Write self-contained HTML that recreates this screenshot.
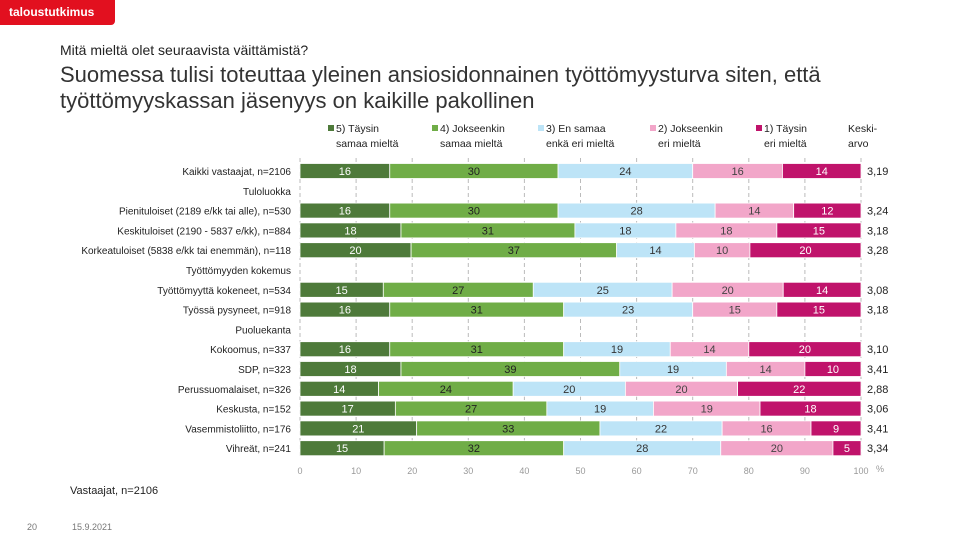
<!DOCTYPE html>
<html><head><meta charset="utf-8"><style>
body{margin:0;width:960px;height:540px;background:#fff;overflow:hidden;font-family:"Liberation Sans",sans-serif;}
#logo{position:absolute;left:0;top:0;width:115px;height:25px;background:#e2101f;border-bottom-right-radius:4px;color:#fff;font-weight:bold;font-size:12px;line-height:24px;padding-left:9px;box-sizing:border-box;}
.t{position:absolute;white-space:nowrap;color:#222;}
</style></head><body>
<div id="logo">taloustutkimus</div>
<div class="t" style="left:60px;top:42px;font-size:14px;">Mitä mieltä olet seuraavista väittämistä?</div>
<div class="t" style="left:60px;top:62px;font-size:22px;line-height:26px;color:#333;">Suomessa tulisi toteuttaa yleinen ansiosidonnainen työttömyysturva siten, että<br>työttömyyskassan jäsenyys on kaikille pakollinen</div>
<svg id="c" width="960" height="540" style="position:absolute;left:0;top:0"></svg>
<div class="t" style="left:70px;top:485px;font-size:11px;">Vastaajat, n=2106</div>
<div class="t" style="left:27px;top:522px;font-size:9px;color:#777;">20</div>
<div class="t" style="left:72px;top:522px;font-size:9px;color:#777;">15.9.2021</div>
<script>
const rowLabels=["Kaikki vastaajat, n=2106","Tuloluokka","Pienituloiset (2189 e/kk tai alle), n=530","Keskituloiset (2190 - 5837 e/kk), n=884","Korkeatuloiset (5838 e/kk tai enemmän), n=118","Työttömyyden kokemus","Työttömyyttä kokeneet, n=534","Työssä pysyneet, n=918","Puoluekanta","Kokoomus, n=337","SDP, n=323","Perussuomalaiset, n=326","Keskusta, n=152","Vasemmistoliitto, n=176","Vihreät, n=241"];
const s5=[16,null,16,18,20,null,15,16,null,16,18,14,17,21,15];
const s4=[30,null,30,31,37,null,27,31,null,31,39,24,27,33,32];
const s3=[24,null,28,18,14,null,25,23,null,19,19,20,19,22,28];
const s2=[16,null,14,18,10,null,20,15,null,14,14,20,19,16,20];
const s1=[14,null,12,15,20,null,14,15,null,20,10,22,18,9,5];
const means=["3,19","","3,24","3,18","3,28","","3,08","3,18","","3,10","3,41","2,88","3,06","3,41","3,34"];
const seriesNames=["5) Täysin|samaa mieltä","4) Jokseenkin|samaa mieltä","3) En samaa|enkä eri mieltä","2) Jokseenkin|eri mieltä","1) Täysin|eri mieltä"];
const ticks=[0,10,20,30,40,50,60,70,80,90,100];
const colors=["#4e7a3a","#70ad47","#bde4f7","#f2a6c9","#c0136b"];
const txtColors=["#fff","#222","#333","#444","#fff"];
const X0=300,X1=861,Y0=171,DY=19.8,BH=15;
const x=v=>X0+(X1-X0)*v/100;
const y=i=>Y0+i*DY;
const svg=document.getElementById('c');
const NS="http://www.w3.org/2000/svg";
function mk(t,a){const e=document.createElementNS(NS,t);for(const k in a)e.setAttribute(k,a[k]);svg.appendChild(e);return e;}
ticks.forEach(t=>{
 const l=mk('line',{x1:x(t),x2:x(t),y1:158,y2:458,stroke:'#bbb','stroke-dasharray':'4,3'});
 
 
 const tx=mk('text',{x:x(t),y:474,'font-size':9,fill:'#999','text-anchor':'middle'});tx.textContent=t;
 
 
});
const pc=mk('text',{x:876,y:472,'font-size':9,fill:'#999'});pc.textContent='%';


const series=[s5,s4,s3,s2,s1];
rowLabels.forEach((lab,i)=>{
 const t=mk('text',{x:291,y:y(i)+4,'font-size':10,fill:'#222','text-anchor':'end'});t.textContent=lab;
 
 
 if(s5[i]==null)return;
 const tot=series.reduce((a,s)=>a+s[i],0);
 let c=0;
 series.forEach((s,k)=>{
  const v=s[i]*100/tot;
  const r=mk('rect',{x:x(c),y:y(i)-BH/2,width:x(c+v)-x(c),height:BH,fill:colors[k],stroke:'#fff','stroke-width':0.8});
  
  
  const tv=mk('text',{x:(x(c)+x(c+v))/2,y:y(i)+4,'font-size':11,fill:txtColors[k],'text-anchor':'middle'});tv.textContent=s[i];
  
  
  c+=v;
 });
 const m=mk('text',{x:867,y:y(i)+4,'font-size':11,fill:'#222'});m.textContent=means[i];
 
 
});
const lx=[328,432,538,650,756];
seriesNames.forEach((n,k)=>{
 const sq=mk('rect',{x:lx[k],y:125,width:6,height:6,fill:colors[k]});
 
 
 const p=n.split('|');
 const t1=mk('text',{x:lx[k]+8,y:132,'font-size':10.5,fill:'#222'});t1.textContent=p[0];
 
 
 const t2=mk('text',{x:lx[k]+8,y:147,'font-size':10.5,fill:'#222'});t2.textContent=p[1];
 
 
});
const k1=mk('text',{x:848,y:132,'font-size':10.5,fill:'#222'});k1.textContent='Keski-';


const k2=mk('text',{x:848,y:147,'font-size':10.5,fill:'#222'});k2.textContent='arvo';


</script>
</body></html>
